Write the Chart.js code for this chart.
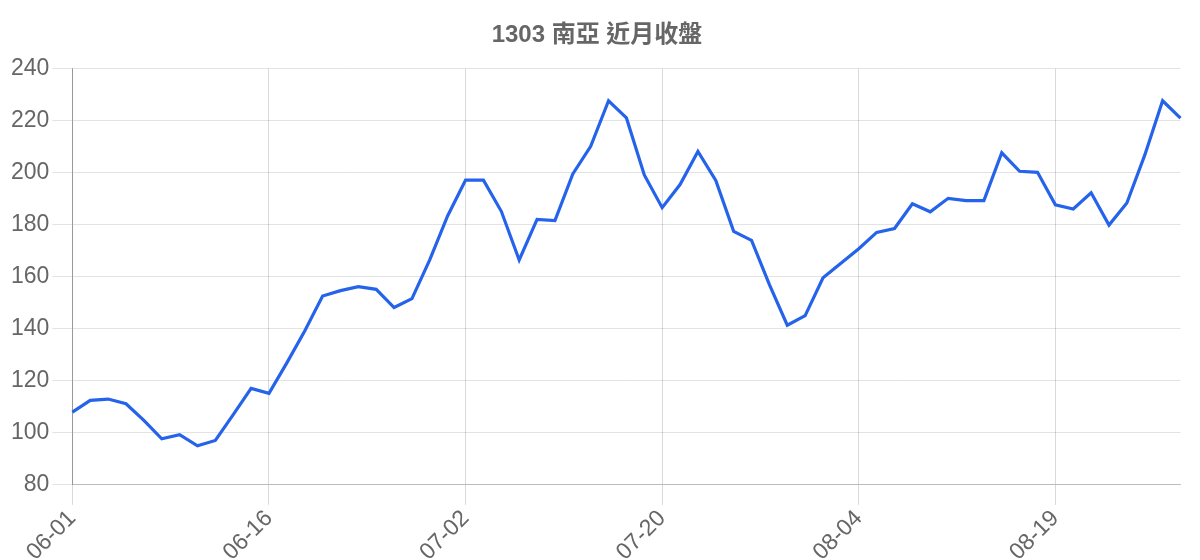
<!DOCTYPE html>
<html>
<head>
<meta charset="utf-8">
<script src="https://cdn.jsdelivr.net/npm/chart.js@4"></script>
<style>
  html, body { margin: 0; padding: 0; background: #fff; }
  #wrap { width: 1200px; height: 560px; }
</style>
</head>
<body>
<div id="wrap"><canvas id="lineChart"></canvas></div>
<script>
const dates = [
    '06-01', '06-02', '06-03', '06-04', '06-05', '06-08', '06-09', '06-10', '06-11', '06-12',
    '06-15', '06-16', '06-17', '06-18', '06-19', '06-22', '06-23', '06-24', '06-26', '06-29',
    '06-30', '07-01', '07-02', '07-03', '07-07', '07-08', '07-09', '07-10', '07-13', '07-14',
    '07-15', '07-16', '07-17', '07-20', '07-21', '07-22', '07-23', '07-24', '07-27', '07-28',
    '07-29', '07-30', '07-31', '08-03', '08-04', '08-05', '08-06', '08-07', '08-10', '08-11',
    '08-12', '08-13', '08-14', '08-17', '08-18', '08-19', '08-20', '08-21', '08-24', '08-25',
    '08-26', '08-27', '08-28'
];

const closePrices = [
    108, 112.5, 113, 111.2, 104.8, 97.7, 99.3, 95, 97.1, 107,
    117.1, 115.2, 126.9, 139.2, 152.6, 154.7, 156.2, 155.2, 148.2, 151.6,
    166.6, 183.5, 197.2, 197.2, 185.2, 166.5, 182.1, 181.6, 199.6, 210.2,
    227.7, 221.1, 199.2, 186.6, 195.5, 208.2, 197.1, 177.5, 174, 157,
    141.4, 145.1, 159.6, 165.2, 170.8, 177.1, 178.6, 188.1, 185, 190.2,
    189.3, 189.3, 207.7, 200.6, 200.2, 187.7, 186.1, 192.3, 179.9, 188.4,
    206.8, 227.7, 221
];

const yTicks = [80, 100, 120, 140, 160, 180, 200, 220, 240];
const labelEvery = 11;

Chart.defaults.font.family = '"Liberation Sans", Arial, "Noto Sans CJK TC", sans-serif';
Chart.defaults.color = '#666';

new Chart(document.getElementById('lineChart'), {
    type: 'line',
    data: {
        labels: dates,
        datasets: [{
            label: '收盤',
            data: closePrices,
            borderColor: '#2563eb',
            borderWidth: 3.2,
            pointRadius: 0,
            tension: 0,
            fill: false
        }]
    },
    options: {
        responsive: true,
        maintainAspectRatio: false,
        animation: false,
        layout: { padding: { left: 8, right: 14, top: 4, bottom: -6 } },
        plugins: {
            legend: { display: false },
            title: {
                display: true,
                text: '1303 南亞 近月收盤',
                color: '#666',
                font: { size: 24, weight: 'bold' },
                padding: { top: 17, bottom: 19 }
            },
            tooltip: { enabled: false }
        },
        scales: {
            x: {
                grid: {
                    tickLength: 20,
                    color: ctx => (ctx.index % labelEvery === 0 ? 'rgba(0,0,0,0.15)' : 'rgba(0,0,0,0)')
                },
                border: { color: 'rgba(0,0,0,0.18)' },
                ticks: {
                    autoSkip: false,
                    maxRotation: 45,
                    minRotation: 45,
                    padding: 0,
                    font: { size: 23 },
                    callback: function (val, idx) {
                        return idx % labelEvery === 0 ? this.getLabelForValue(val) : '';
                    }
                }
            },
            y: {
                min: yTicks[0],
                max: yTicks[yTicks.length - 1],
                afterBuildTicks: axis => {
                    axis.ticks = yTicks.map(v => ({ value: v }));
                },
                grid: { color: 'rgba(0,0,0,0.11)', tickLength: 20 },
                border: { color: 'rgba(0,0,0,0.3)' },
                ticks: { font: { size: 23 }, padding: 3 }
            }
        }
    }
});
</script>
</body>
</html>
